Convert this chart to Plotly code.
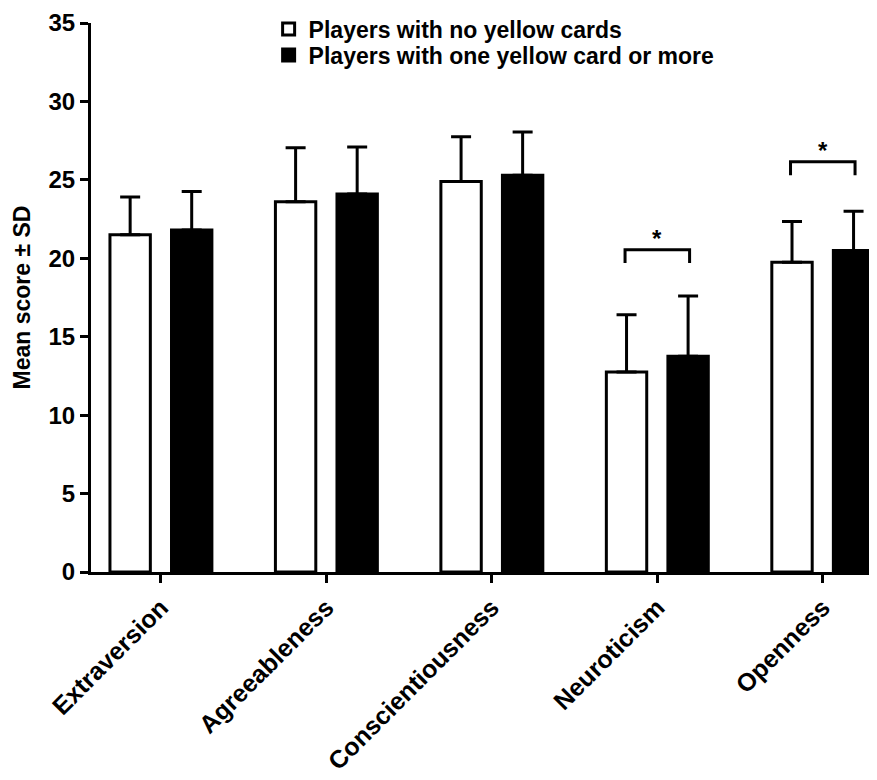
import plotly.graph_objects as go

categories = ["Extraversion", "Agreeableness", "Conscientiousness", "Neuroticism", "Openness"]
no_yellow_mean = [21.5, 23.6, 24.9, 12.75, 19.75]
no_yellow_sd = [2.4, 3.45, 2.85, 3.65, 2.6]
yellow_mean = [21.8, 24.1, 25.3, 13.75, 20.5]
yellow_sd = [2.45, 3.0, 2.75, 3.85, 2.5]
series_names = ["Players with no yellow cards", "Players with one yellow card or more"]
# significance brackets: (category index, bracket height, leg bottom)
sig_idx = [3, 4]
sig_top = [20.55, 26.15]
sig_leg = [19.7, 25.3]

FONT = "Liberation Sans, Arial, sans-serif"
xpos = list(range(len(categories)))

fig = go.Figure()
fig.add_trace(go.Bar(
    x=xpos, y=no_yellow_mean, name=series_names[0], legend="legend",
    marker=dict(color="white", line=dict(color="black", width=3)),
    error_y=dict(type="data", symmetric=False, array=no_yellow_sd,
                 arrayminus=[0] * len(no_yellow_sd), color="black", thickness=3, width=10),
))
fig.add_trace(go.Bar(
    x=xpos, y=yellow_mean, name=series_names[1], legend="legend2",
    marker=dict(color="black", line=dict(color="black", width=3)),
    error_y=dict(type="data", symmetric=False, array=yellow_sd,
                 arrayminus=[0] * len(yellow_sd), color="black", thickness=3, width=10),
))

off = 0.195
for i, top, leg in zip(sig_idx, sig_top, sig_leg):
    fig.add_shape(type="path",
                  path=f"M {i - off} {leg} L {i - off} {top} L {i + off} {top} L {i + off} {leg}",
                  xref="x", yref="y", line=dict(color="black", width=3))
    fig.add_annotation(x=i, y=top, xref="x", yref="y", text="*", showarrow=False,
                       yanchor="bottom", yshift=-4,
                       font=dict(family=FONT, size=24, color="black", weight="bold"))

legend_font = dict(family=FONT, size=23, color="black", weight="bold")
fig.update_layout(
    width=877, height=780,
    margin=dict(l=83, r=0, t=15, b=216, autoexpand=False),
    paper_bgcolor="white", plot_bgcolor="white",
    barmode="group", bargap=0.256, bargroupgap=0.344,
    showlegend=True,
    legend=dict(x=0.2237, y=0.9891, xanchor="left", yanchor="middle",
                bgcolor="rgba(0,0,0,0)", font=legend_font),
    legend2=dict(x=0.2237, y=0.9417, xanchor="left", yanchor="middle",
                 bgcolor="rgba(0,0,0,0)", font=legend_font),
    font=dict(family=FONT, color="black"),
)
fig.update_xaxes(
    range=[-0.4226, 4.376], tickvals=xpos, ticktext=categories, tickangle=-45,
    automargin=False, ticklabeloverflow="allow",
    showline=True, linecolor="black", linewidth=3,
    ticks="outside", ticklen=8, tickwidth=3, tickcolor="black",
    showgrid=False, zeroline=False,
    tickfont=dict(family=FONT, size=25, color="black", weight="bold"),
)
fig.update_yaxes(
    range=[0, 35], dtick=5, tick0=0,
    automargin=False, ticklabeloverflow="allow",
    showline=True, linecolor="black", linewidth=3,
    ticks="outside", ticklen=8, tickwidth=3, tickcolor="black",
    showgrid=False, zeroline=False,
    tickfont=dict(family=FONT, size=24, color="black", weight="bold"),
    title=dict(text="Mean score ± SD", standoff=12,
               font=dict(family=FONT, size=23, color="black", weight="bold")),
)

fig.write_html("out.html")
